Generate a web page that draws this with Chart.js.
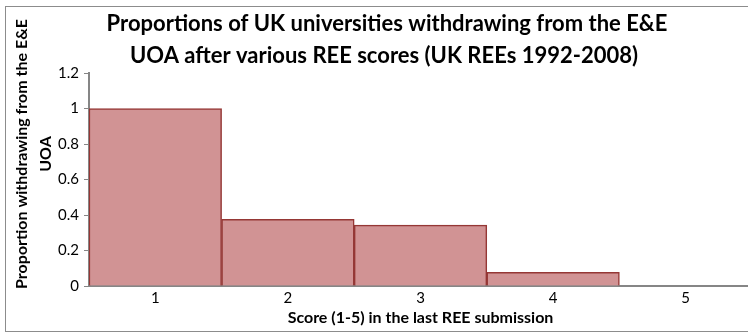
<!DOCTYPE html>
<html>
<head>
<meta charset="utf-8">
<script src="https://cdn.jsdelivr.net/npm/chart.js@4.4.1/dist/chart.umd.min.js"></script>
<style>
    html, body { margin: 0; padding: 0; background: #fff; overflow: hidden; width: 748px; height: 334px; }
    #frame { position: absolute; left: 5px; top: 6px; width: 800px; height: 324px; border: 1px solid #8c8c8c; }
    #chart { position: absolute; left: 0; top: 0; }
</style>
</head>
<body>
<div id="frame"></div>
<canvas id="chart" width="770" height="334"></canvas>
<script>
// chart data
const scores = ["1", "2", "3", "4", "5"];
const withdrawn = [1, 0.375, 0.343, 0.077, 0];
const yTicks = [0, 0.2, 0.4, 0.6, 0.8, 1, 1.2];

const titleLines = ["Proportions of UK universities withdrawing from the E&E", "UOA after various REE scores (UK REEs 1992-2008)"];
const yTitleLines = ["Proportion withdrawing from the E&E", "UOA"];
const xTitle = "Score (1-5) in the last REE submission";

// titles are placed by hand like the Excel original
const titlesPlugin = {
    id: "titles",
    afterDraw(chart) {
        const ctx = chart.ctx;
        const area = chart.chartArea;
        ctx.save();
        ctx.fillStyle = "#000";
        ctx.textAlign = "center";
        ctx.textBaseline = "alphabetic";
        ctx.font = "bold 22px Lato";
        ctx.fillText(titleLines[0], 387, 31);
        ctx.fillText(titleLines[1], 384, 63);

        ctx.font = "bold 16px Lato";
        ctx.textBaseline = "middle";
        ctx.fillText(xTitle, (area.left + area.right) / 2, 318);

        ctx.font = "bold 16px Lato";
        ctx.translate(22, 154);
        ctx.rotate(-Math.PI / 2);
        ctx.fillText(yTitleLines[0], 0, 0);
        ctx.fillText(yTitleLines[1], 0, 24);
        ctx.restore();
    }
};

const ctx = document.getElementById("chart").getContext("2d");
new Chart(ctx, {
    type: "bar",
    data: {
        labels: scores,
        datasets: [{
            data: withdrawn,
            backgroundColor: "#d19394",
            borderColor: "#953735",
            borderWidth: 1.5,
            barPercentage: 1,
            categoryPercentage: 1
        }]
    },
    options: {
        responsive: false,
        animation: false,
        layout: { padding: { top: 73, left: 0, right: 18, bottom: 0 } },
        plugins: {
            legend: { display: false },
            title: { display: false },
            tooltip: { enabled: false }
        },
        scales: {
            x: {
                grid: { display: false, drawTicks: false },
                border: { display: true, color: "#868686", width: 2 },
                ticks: { color: "#000", font: { family: "Lato", size: 15 }, padding: 3 },
                afterFit(scale) { scale.height = 48; }
            },
            y: {
                min: 0,
                max: 1.2,
                afterBuildTicks(scale) { scale.ticks = yTicks.map(v => ({ value: v })); },
                grid: { drawOnChartArea: false, drawTicks: true, tickLength: 5, color: "#868686" },
                border: { display: true, color: "#868686", width: 2 },
                ticks: {
                    color: "#000",
                    font: { family: "Lato", size: 15 },
                    padding: 5,
                    callback: v => String(+v.toFixed(1))
                },
                afterFit(scale) { scale.width = 89; }
            }
        }
    },
    plugins: [titlesPlugin]
});
</script>
</body>
</html>
